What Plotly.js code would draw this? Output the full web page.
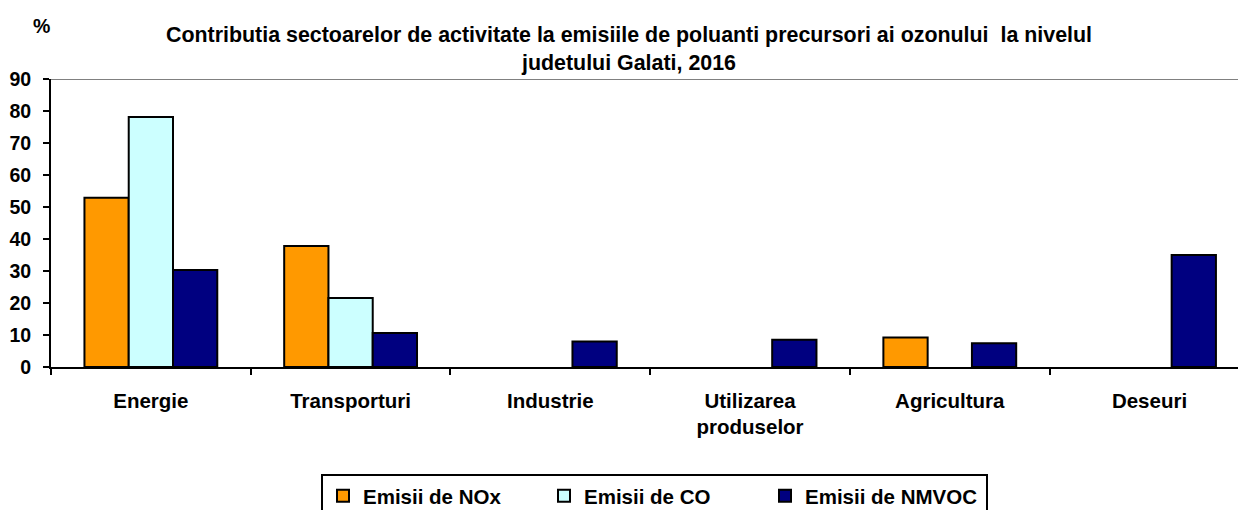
<!DOCTYPE html>
<html>
<head>
<meta charset="utf-8">
<script src="https://cdn.plot.ly/plotly-3.0.1.min.js"></script>
<style>
html,body{margin:0;padding:0;background:#fff;}
#chart{width:1238px;height:510px;}
</style>
</head>
<body>
<div id="chart"></div>
<script>
const categories = ["Energie", "Transporturi", "Industrie", "Utilizarea<br>produselor", "Agricultura", "Deseuri"];
const seriesNames = ["Emisii de NOx", "Emisii de CO", "Emisii de NMVOC"];
const noxValues = [52.9, 37.8, 0, 0, 9.2, 0];
const coValues = [78.1, 21.6, 0, 0, 0, 0];
const nmvocValues = [30.3, 10.6, 8.0, 8.5, 7.4, 35.0];
const yTicks = [0, 10, 20, 30, 40, 50, 60, 70, 80, 90];
const titleText = "Contributia sectoarelor de activitate la emisiile de poluanti precursori ai ozonului  la nivelul<br>judetului Galati, 2016";
const unitText = "%";

const colors = ["#FF9900", "#CCFFFF", "#000080"];
const values = [noxValues, coValues, nmvocValues];
const FONT = "Liberation Sans, Arial, sans-serif";

const traces = values.map((v, i) => ({
  type: "bar",
  name: seriesNames[i],
  x: categories,
  y: v,
  marker: {color: colors[i], line: {color: "#000000", width: v.map(d => d > 0 ? 2 : 0)}},
  hoverinfo: "skip"
}));

const layout = {
  width: 1238,
  height: 510,
  paper_bgcolor: "#ffffff",
  plot_bgcolor: "#ffffff",
  margin: {l: 51, r: 0, t: 79, b: 143, pad: 0},
  barmode: "group",
  bargap: 0.335,
  bargroupgap: 0,
  font: {family: FONT, color: "#000000", size: 20},
  title: {
    text: titleText,
    font: {family: FONT, size: 21.4, weight: "bold", color: "#000000"},
    xref: "container", yref: "container",
    x: 629 / 1238, xanchor: "center",
    y: 1 - 42 / 510, yanchor: "top"
  },
  xaxis: {
    type: "category",
    range: [-0.5, 5.443],
    showgrid: false,
    zeroline: false,
    showline: true, linecolor: "#000000", linewidth: 2,
    ticks: "outside", ticklen: 6, tickwidth: 2, tickcolor: "#000000",
    tickson: "boundaries",
    ticklabelstandoff: 14,
    tickfont: {family: FONT, size: 20.5, weight: "bold", color: "#000000"},
    fixedrange: true
  },
  yaxis: {
    range: [0, 90],
    tickvals: yTicks,
    ticktext: yTicks.map(String),
    showgrid: false,
    zeroline: false,
    showline: true, linecolor: "#000000", linewidth: 2,
    ticks: "outside", ticklen: 6, tickwidth: 2, tickcolor: "#000000",
    ticklabelstandoff: 8,
    tickfont: {family: FONT, size: 19.5, weight: "bold", color: "#000000"},
    fixedrange: true
  },
  shapes: [{
    type: "line", xref: "paper", yref: "y",
    x0: 0, x1: 1, y0: 90, y1: 90,
    line: {color: "#808080", width: 2}, layer: "below"
  }],
  annotations: [{
    text: unitText, xref: "paper", yref: "paper",
    x: 0, xshift: -10, xanchor: "center",
    y: (367 - 26) / 288, yanchor: "middle",
    showarrow: false,
    font: {family: FONT, size: 19.5, weight: "bold", color: "#000000"}
  }],
  showlegend: true,
  legend: {
    orientation: "h",
    xref: "container", yref: "container",
    x: 321 / 1238, xanchor: "left",
    y: 1 - 474 / 510, yanchor: "top",
    bordercolor: "#000000", borderwidth: 2,
    bgcolor: "#ffffff",
    entrywidth: 176, entrywidthmode: "pixels",
    itemwidth: 30,
    traceorder: "normal",
    font: {family: FONT, size: 20.5, weight: "bold", color: "#000000"}
  }
};

Plotly.newPlot("chart", traces, layout, {displayModeBar: false, staticPlot: true});
</script>
</body>
</html>
